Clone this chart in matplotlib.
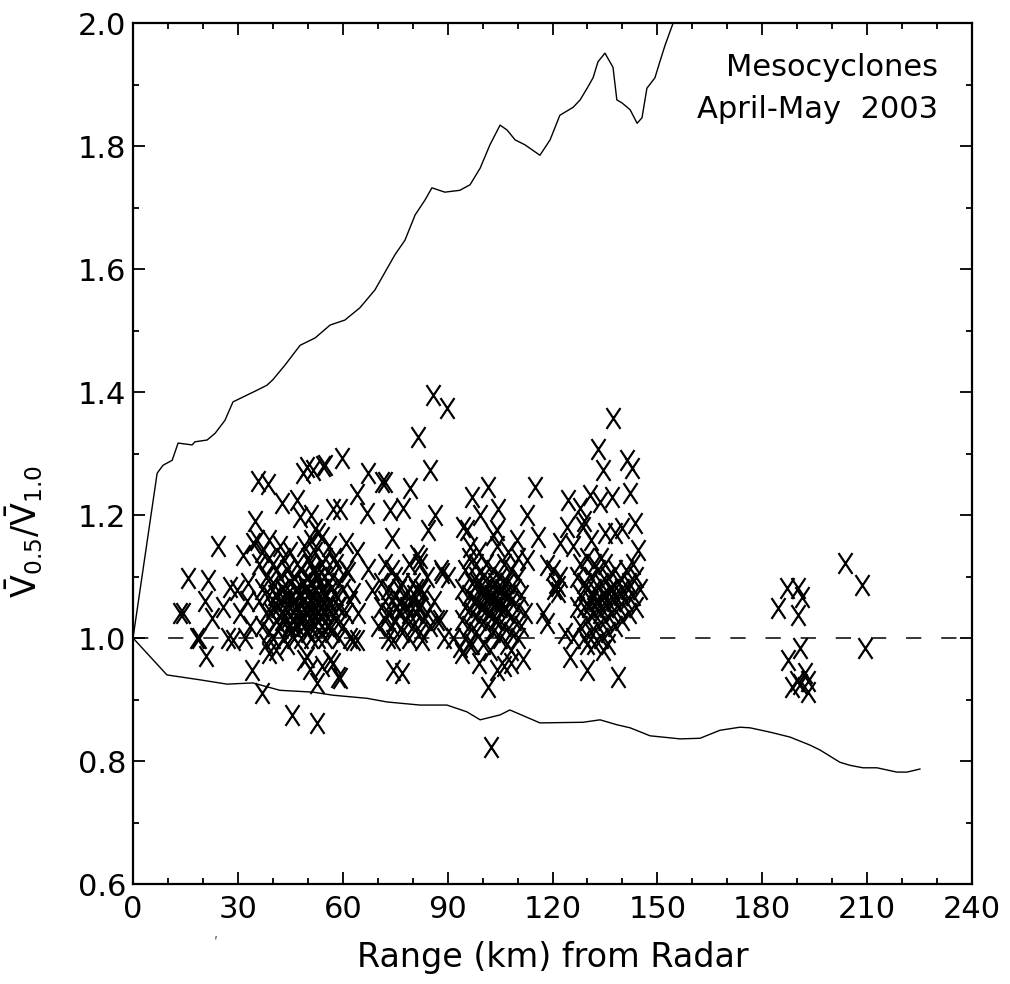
import numpy as np
import matplotlib
matplotlib.use("Agg")
import matplotlib.pyplot as plt
from matplotlib.path import Path
from matplotlib.ticker import MultipleLocator

plt.rcParams['font.family'] = ['DejaVu Sans']
plt.rcParams['mathtext.default'] = 'regular'

# upper / lower envelope curves (range km, ratio)
upper_km = [0, 6.9, 8.6, 11.2, 12.9, 16.9, 17.7, 21.2, 23.5, 26.3, 28.6, 32.6, 35.5, 38.3, 40.0,
            43.5, 47.8, 52.1, 56.4, 60.6, 64.9, 69.2, 72.1, 74.9, 77.8, 80.7, 83.5, 85.5, 89.2,
            93.5, 96.4, 99.3, 102.1, 105.0, 107.0, 109.3, 112.1, 116.4, 119.3, 122.1, 125.9,
            127.9, 129.9, 131.6, 133.0, 135.0, 137.3, 138.4, 139.9, 142.2, 144.2, 145.6, 147.0,
            149.3, 150.7, 152.2, 154.5, 156.5]
upper_ratio = [1.0, 1.268, 1.281, 1.289, 1.317, 1.314, 1.319, 1.322, 1.333, 1.354, 1.384, 1.395,
               1.403, 1.411, 1.420, 1.444, 1.476, 1.488, 1.509, 1.517, 1.537, 1.566, 1.595, 1.623,
               1.647, 1.688, 1.712, 1.732, 1.725, 1.728, 1.737, 1.764, 1.802, 1.834, 1.826, 1.810,
               1.802, 1.785, 1.810, 1.850, 1.863, 1.875, 1.894, 1.911, 1.937, 1.951, 1.928, 1.875,
               1.870, 1.859, 1.837, 1.846, 1.894, 1.911, 1.937, 1.964, 2.0, 2.037]

lower_km = [0, 9.7, 19.2, 26.9, 34.3, 42.0, 51.5, 57.2, 66.9, 72.7, 82.1, 89.8, 95.5, 99.3, 105.0,
            107.8, 116.4, 128.7, 133.6, 138.4, 142.2, 147.9, 156.5, 162.2, 167.9, 173.6, 176.5,
            182.2, 187.9, 193.6, 196.5, 202.2, 205.1, 208.8, 212.8, 218.5, 221.4, 225.1]
lower_ratio = [1.0, 0.940, 0.932, 0.925, 0.927, 0.915, 0.912, 0.907, 0.902, 0.896, 0.891, 0.891,
               0.880, 0.867, 0.875, 0.883, 0.862, 0.863, 0.867, 0.859, 0.854, 0.841, 0.836, 0.837,
               0.850, 0.855, 0.854, 0.847, 0.839, 0.826, 0.818, 0.798, 0.793, 0.789, 0.789, 0.782,
               0.782, 0.787]

# mesocyclone cases, grouped by range band
cases_10_35 = [(13.4, 1.04), (14.2, 1.04), (15.8, 1.097), (18.2, 1.0), (18.8, 1.0), (21, 0.97),
               (21.5, 1.095), (20.6, 1.06), (22.6, 1.033), (24.4, 1.15), (25.7, 1.05), (27.2, 1.0),
               (27.7, 1.083), (28.6, 0.997), (29.7, 1.078), (30.6, 1.04), (31.5, 1.135), (32, 1.0),
               (32.5, 1.06), (33, 1.09), (33.5, 1.02), (34, 0.948), (34.4, 1.155), (35, 1.19),
               (35.5, 1.16), (35.8, 1.256), (36.8, 0.911), (38.6, 1.25), (39, 0.976), (42.6, 1.22),
               (45.5, 0.875)]

cases_35_62 = [(36, 1.06), (36, 1.12), (37, 1.02), (37, 1.08), (37, 1.14), (38, 1.04), (38, 1.10),
               (38, 0.99), (39, 1.07), (39, 1.13), (39, 1.01), (39, 1.16), (40, 1.05), (40, 1.09),
               (40, 1.00), (40, 1.12), (41, 1.03), (41, 1.07), (41, 1.11), (41, 0.98), (42, 1.02),
               (42, 1.06), (42, 1.10), (42, 1.15), (43, 1.00), (43, 1.04), (43, 1.08), (43, 1.13),
               (44, 1.03), (44, 1.07), (44, 1.11), (44, 0.99), (45, 1.01), (45, 1.05), (45, 1.09),
               (45, 1.14), (46, 1.03), (46, 1.06), (46, 1.10), (46, 1.00), (47, 1.02), (47, 1.05),
               (47, 1.08), (47, 1.12), (48, 1.00), (48, 1.04), (48, 1.07), (48, 1.11), (49, 1.02),
               (49, 1.06), (49, 1.09), (49, 1.15), (50, 1.01), (50, 1.04), (50, 1.07), (50, 1.10),
               (50, 1.13), (51, 1.00), (51, 1.03), (51, 1.06), (51, 1.09), (51, 1.16), (52, 1.02),
               (52, 1.05), (52, 1.08), (52, 1.11), (52, 1.14), (53, 1.00), (53, 1.04), (53, 1.07),
               (53, 1.10), (53, 1.17), (54, 1.02), (54, 1.05), (54, 1.08), (54, 1.12), (55, 1.00),
               (55, 1.04), (55, 1.07), (55, 1.13), (56, 1.02), (56, 1.06), (56, 1.09), (56, 1.15),
               (57, 1.01), (57, 1.05), (57, 1.10), (58, 1.03), (58, 1.07), (58, 1.12), (59, 1.00),
               (59, 1.05), (59, 1.09), (60, 1.02), (60, 1.08), (61, 1.04), (61, 1.11), (62, 1.00),
               (62, 1.06), (48.5, 1.03), (50.5, 1.05), (52.5, 1.06), (54.5, 1.04), (46.5, 1.08),
               (44.5, 1.06), (50.5, 1.12), (52.5, 1.10), (55.5, 1.02), (57.5, 1.13), (47.8, 1.197),
               (52, 1.178), (54, 1.164), (51, 1.20), (57.2, 1.21), (59.2, 1.21), (61, 1.155),
               (61.5, 1.107), (63, 1.073), (64.4, 1.04), (64, 0.997), (64, 1.14), (47, 1.225),
               (48.6, 1.268), (49.7, 1.278), (51.5, 1.273), (54.4, 1.28), (55, 1.281), (59.7, 1.292),
               (49, 0.964), (49.8, 0.969), (52.6, 0.927), (52.6, 0.862), (56.4, 0.964), (57.2, 0.96),
               (58.6, 0.937), (59.2, 0.935), (54, 0.955), (50.5, 0.95)]

# densest part of the 35-62 km band
core_35_62 = [(39.5, 1.04), (40.5, 1.07), (41.5, 1.05), (42.5, 1.03), (42.5, 1.08), (43.5, 1.06),
              (44.5, 1.02), (45.5, 1.07), (45.5, 1.03), (46.5, 1.05), (47.5, 1.03), (47.5, 1.07),
              (48.5, 1.06), (48.5, 1.09), (49.5, 1.04), (49.5, 1.08), (50.5, 1.02), (50.5, 1.09),
              (51.5, 1.04), (51.5, 1.07), (51.5, 1.11), (52.5, 1.03), (53.5, 1.05), (53.5, 1.09),
              (54.5, 1.07), (54.5, 1.10), (55.5, 1.05), (56.5, 1.04), (56.5, 1.08), (58.5, 1.05)]

cases_62_92 = [(70, 1.02), (71, 1.05), (71, 1.09), (72, 1.03), (72, 1.06), (72, 1.12), (73, 1.00),
               (73, 1.04), (73, 1.08), (74, 1.02), (74, 1.06), (74, 1.11), (75, 1.03), (75, 1.07),
               (75, 1.10), (76, 1.04), (76, 1.08), (77, 1.01), (77, 1.05), (77, 1.09), (78, 1.03),
               (78, 1.07), (79, 1.00), (79, 1.04), (79, 1.12), (80, 1.02), (80, 1.06), (80, 1.09),
               (81, 1.04), (81, 1.08), (82, 1.01), (82, 1.05), (82, 1.13), (83, 1.03), (83, 1.07),
               (84, 1.04), (84, 1.10), (85, 1.02), (86, 1.06), (87, 1.03), (88, 1.11), (89, 1.00),
               (64, 1.235), (66.8, 1.203), (67.3, 1.268), (71.2, 1.253), (72, 1.254), (73.5, 1.208),
               (74, 1.163), (77.3, 1.211), (79.2, 1.244), (81.5, 1.327), (85, 1.273), (85.8, 1.395),
               (89.8, 1.374), (84.4, 1.176), (86.4, 1.2), (88.4, 1.106), (87.8, 1.03), (74.4, 0.948),
               (77, 0.943), (63, 0.997), (67.3, 1.113), (68.4, 1.078), (81.2, 1.135), (82, 1.12),
               (90, 1.1), (91.5, 1.0), (82.6, 0.997), (74.4, 0.997), (75.5, 1.05), (76.5, 1.06),
               (80.5, 1.07), (81.5, 1.05), (82.5, 1.08), (78.5, 1.05)]

cases_92_120 = [(94, 1.03), (94, 1.08), (95, 1.00), (95, 1.05), (95, 1.11), (96, 1.02), (96, 1.07),
                (96, 1.13), (97, 0.99), (97, 1.04), (97, 1.09), (98, 1.01), (98, 1.06), (98, 1.10),
                (99, 1.03), (99, 1.08), (99, 1.14), (100, 0.99), (100, 1.05), (100, 1.10), (101, 1.02),
                (101, 1.07), (101, 1.12), (102, 0.98), (102, 1.04), (102, 1.09), (103, 1.01),
                (103, 1.06), (103, 1.11), (104, 1.03), (104, 1.08), (104, 1.15), (105, 1.00),
                (105, 1.05), (105, 1.10), (106, 1.02), (106, 1.07), (106, 1.12), (107, 0.99),
                (107, 1.04), (107, 1.09), (108, 1.01), (108, 1.06), (108, 1.11), (109, 1.03),
                (109, 1.08), (110, 1.00), (110, 1.05), (110, 1.10), (111, 1.02), (111, 1.07),
                (112, 1.04), (100, 1.07), (102, 1.06), (104, 1.05), (106, 1.09), (98, 1.12),
                (96, 0.99), (108, 0.98), (110, 1.13), (93.5, 0.985), (94, 0.975), (96.4, 1.148),
                (94.4, 1.18), (97, 1.23), (99.3, 1.2), (101.5, 1.245), (104.4, 1.21), (104, 1.176),
                (103, 1.167), (107.3, 1.14), (109.8, 1.16), (112.7, 1.2), (112.7, 1.127),
                (115, 1.245), (115.8, 1.164), (117.3, 1.04), (118.4, 1.024), (101.5, 0.92),
                (104, 0.948), (111.5, 0.966), (99, 0.96), (106, 0.955), (108, 0.96), (102.5, 0.823),
                (95.5, 1.176), (120.5, 1.08), (121, 1.09), (121.5, 1.085), (122, 1.1), (121.6, 1.075),
                (120, 1.11), (118.3, 1.118), (97.5, 1.06), (99.5, 1.05), (100.5, 1.08), (101.5, 1.04),
                (102.5, 1.07), (103.5, 1.09), (104.5, 1.06), (105.5, 1.08), (106.5, 1.05),
                (107.5, 1.07), (98.5, 1.09), (103.5, 1.03)]

cases_120_150 = [(127, 1.05), (127, 1.10), (128, 1.02), (128, 1.07), (128, 1.12), (129, 1.00),
                 (129, 1.05), (129, 1.09), (130, 1.03), (130, 1.08), (130, 1.13), (131, 1.01),
                 (131, 1.06), (131, 1.10), (132, 0.99), (132, 1.04), (132, 1.08), (133, 1.02),
                 (133, 1.06), (133, 1.11), (134, 1.00), (134, 1.05), (134, 1.09), (135, 1.03),
                 (135, 1.07), (135, 1.12), (136, 1.01), (136, 1.06), (136, 1.10), (137, 1.04),
                 (137, 1.08), (138, 1.02), (138, 1.07), (138, 1.11), (139, 1.05), (139, 1.09),
                 (140, 1.03), (140, 1.08), (141, 1.06), (141, 1.11), (142, 1.04), (142, 1.09),
                 (143, 1.07), (143, 1.12), (144, 1.05), (144, 1.10), (145, 1.08), (132, 1.12),
                 (134, 1.13), (130, 0.99), (136, 0.99), (122.1, 1.155), (124.2, 1.18), (124.4, 1.224),
                 (127.9, 1.211), (130.7, 1.232), (133.6, 1.221), (137, 1.23), (128.7, 1.18),
                 (139.9, 1.179), (137.9, 1.17), (137.3, 1.357), (133, 1.308), (134.4, 1.273),
                 (141.3, 1.289), (142.7, 1.276), (142.2, 1.236), (143.6, 1.187), (144.4, 1.143),
                 (123.6, 1.008), (125, 0.969), (129.9, 0.948), (138.7, 0.937), (134.4, 0.98),
                 (126, 1.0), (126, 1.15), (131, 1.16), (135, 1.17), (129, 1.19), (130.5, 1.05),
                 (131.5, 1.07), (132.5, 1.06), (133.5, 1.04), (134.5, 1.07), (135.5, 1.05),
                 (136.5, 1.08), (137.5, 1.06), (139.5, 1.07), (141.5, 1.08)]

cases_180_215 = [(187, 1.081), (190.3, 1.081), (191.4, 1.067), (184.6, 1.049), (190.3, 1.037),
                 (190.8, 0.984), (187.4, 0.964), (192.2, 0.943), (188.5, 0.92), (189.9, 0.93),
                 (190.8, 0.925), (193, 0.912), (193, 0.93), (203.7, 1.122), (208.5, 1.086),
                 (209.4, 0.984)]

fig = plt.figure(figsize=(10.1, 9.84), dpi=100)
ax = fig.add_axes([0.1317, 0.1016, 0.8307, 0.875])

ax.plot(upper_km, upper_ratio, color='k', lw=1.0)
ax.plot(lower_km, lower_ratio, color='k', lw=1.0)
ax.axhline(1.0, color='k', lw=1.1, dashes=(10, 13))

x_marker = Path([(-0.67, -1), (0.67, 1), (-0.67, 1), (0.67, -1)],
                [Path.MOVETO, Path.LINETO, Path.MOVETO, Path.LINETO])
for group in [cases_10_35, cases_35_62, core_35_62, cases_62_92, cases_92_120,
              cases_120_150, cases_180_215]:
    km, ratio = zip(*group)
    ax.plot(km, ratio, linestyle='none', marker=x_marker, markersize=15,
            markeredgewidth=1.6, color='k')

ax.set_xlim(0, 240)
ax.set_ylim(0.6, 2.0)
ax.xaxis.set_major_locator(MultipleLocator(30))
ax.xaxis.set_minor_locator(MultipleLocator(10))
ax.yaxis.set_major_locator(MultipleLocator(0.2))
ax.yaxis.set_minor_locator(MultipleLocator(0.1))
ax.tick_params(which='both', direction='in', top=True, right=True, width=1.3, labelsize=22)
ax.tick_params(which='major', length=8.6)
ax.tick_params(which='minor', length=4.3)
ax.tick_params(axis='x', pad=8)
ax.tick_params(axis='y', pad=5)
ax.yaxis.set_major_formatter(matplotlib.ticker.FormatStrFormatter('%.1f'))
for sp in ax.spines.values():
    sp.set_linewidth(1.6)

ax.set_xlabel('Range (km) from Radar', fontsize=24, labelpad=12)
ax.set_ylabel(r'$\bar{V}_{0.5}/\bar{V}_{1.0}$', fontsize=24)
ax.yaxis.set_label_coords(-0.105, 0.41)

ax.text(0.96, 0.948, 'Mesocyclones', transform=ax.transAxes, ha='right', va='center', fontsize=22)
ax.text(0.96, 0.899, 'April-May  2003', transform=ax.transAxes, ha='right', va='center', fontsize=22)
fig.text(215 / 1010, 1 - 940 / 984, 'f', fontsize=4)

fig.savefig('out.png', dpi=100)
